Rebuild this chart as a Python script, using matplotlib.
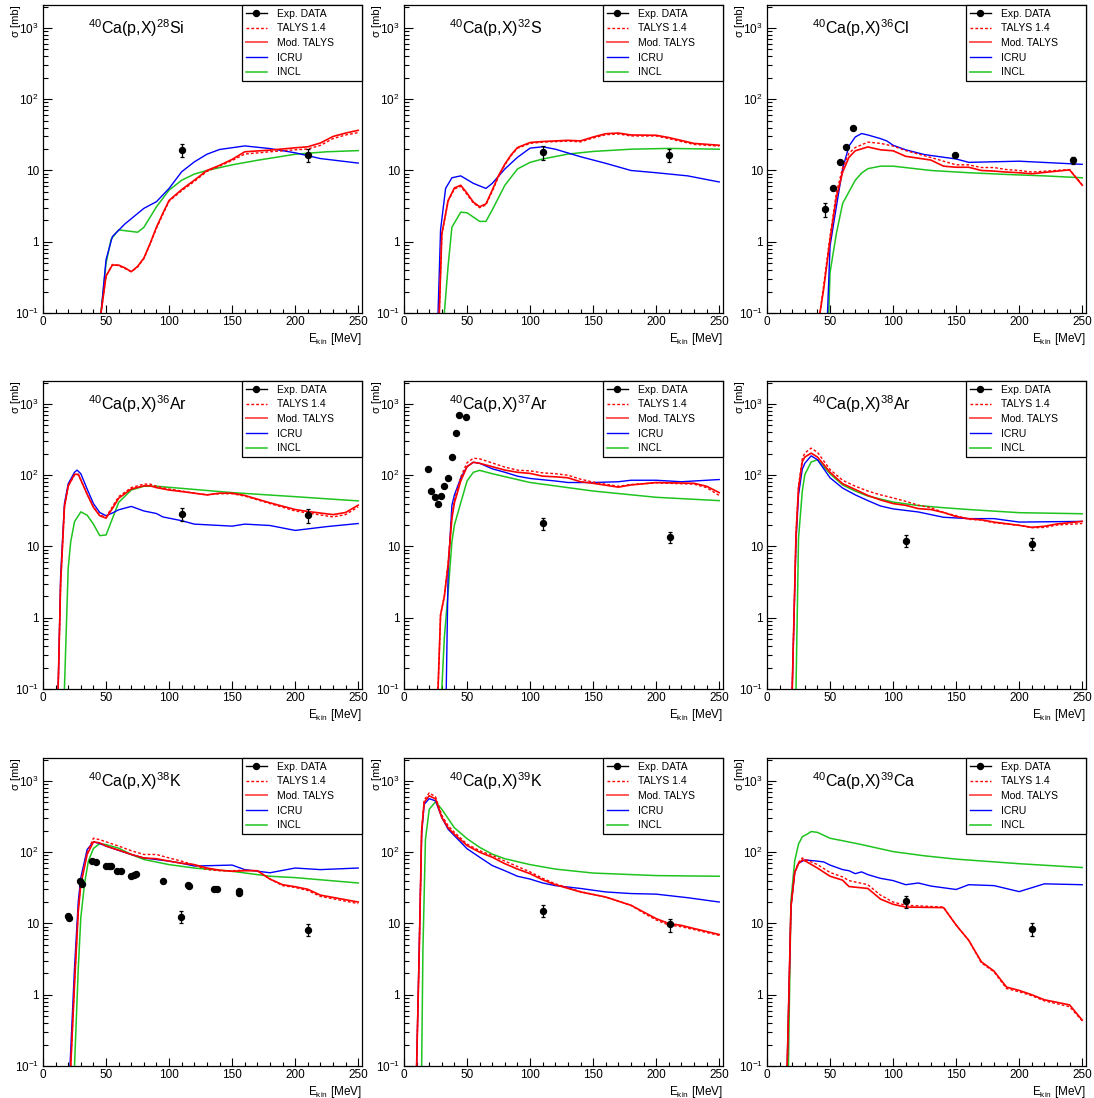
import matplotlib
matplotlib.use("Agg")
import matplotlib.pyplot as plt
from matplotlib.lines import Line2D
from matplotlib.ticker import FixedLocator, FixedFormatter, MultipleLocator, LogLocator, NullFormatter

plt.rcParams['font.family'] = ['Liberation Sans', 'DejaVu Sans']
plt.rcParams['mathtext.fontset'] = 'custom'
plt.rcParams['mathtext.rm'] = 'Liberation Sans'
plt.rcParams['mathtext.it'] = 'Liberation Sans:italic'

# ---- 40Ca(p,X)28Si ----
si28_exp_e = [110, 210]
si28_exp = [19.5, 16.5]
si28_exp_err = [4, 3.5]
si28_talys_e = [46, 50, 55, 60, 65, 70, 75, 80, 85, 90, 95, 100, 110, 120, 130, 140, 150, 160, 180, 200, 210, 220, 230, 240, 250]
si28_mod = [0.1, 0.33, 0.47, 0.47, 0.43, 0.38, 0.45, 0.59, 0.95, 1.6, 2.5, 3.8, 5.4, 7.3, 10, 11.8, 14.3, 18.3, 19.3, 20.8, 21.5, 24.3, 30, 33.5, 36.6]
si28_talys = [0.1, 0.33, 0.48, 0.46, 0.42, 0.38, 0.44, 0.58, 0.93, 1.55, 2.4, 3.7, 5.2, 7.0, 9.7, 11.5, 13.8, 17.0, 18.3, 19.5, 20, 22.5, 28, 31.5, 34]
si28_icru_e = [46, 50, 55, 65, 80, 90, 100, 110, 120, 130, 140, 160, 180, 200, 220, 250]
si28_icru = [0.1, 0.56, 1.18, 1.78, 2.94, 3.65, 5.6, 9.6, 13.2, 16.9, 19.7, 22.1, 20.3, 17.7, 14.7, 12.7]
si28_incl_e = [46, 50, 54, 60, 65, 75, 80, 90, 100, 110, 120, 130, 150, 170, 200, 225, 250]
si28_incl = [0.1, 0.5, 1.08, 1.47, 1.43, 1.36, 1.59, 3.1, 5.3, 7.3, 8.9, 10, 12, 13.9, 16.9, 18.3, 19]

# ---- 40Ca(p,X)32S ----
s32_exp_e = [110, 210]
s32_exp = [18, 16.5]
s32_exp_err = [4, 3.5]
s32_talys_e = [28, 30, 35, 40, 45, 50, 55, 60, 65, 70, 75, 80, 85, 90, 100, 110, 130, 140, 150, 160, 170, 180, 200, 210, 230, 250]
s32_mod = [0.1, 1.3, 3.8, 5.7, 6.2, 4.8, 3.6, 3.1, 3.4, 5.3, 8.5, 12.3, 16.6, 21, 24.7, 25.5, 26.5, 26, 29.5, 32.8, 33.5, 31.5, 31.2, 29, 24, 22.6]
s32_talys = [0.1, 1.25, 3.7, 5.5, 6.0, 4.6, 3.5, 3.0, 3.3, 5.1, 8.2, 12, 16.2, 20.5, 24, 25, 25.8, 25.2, 28.5, 31.8, 32.5, 30.5, 30.5, 28, 23.2, 22]
s32_icru_e = [27, 29, 33, 38, 45, 55, 65, 70, 80, 90, 100, 110, 120, 140, 160, 180, 200, 225, 250]
s32_icru = [0.1, 1.47, 5.6, 7.9, 8.4, 6.6, 5.6, 6.6, 10.5, 15.3, 20.6, 21.5, 19.9, 15.6, 12.6, 10, 9.3, 8.4, 6.9]
s32_incl_e = [32, 35, 38, 45, 50, 60, 65, 70, 80, 90, 100, 110, 130, 150, 180, 210, 250]
s32_incl = [0.1, 0.46, 1.6, 2.6, 2.55, 1.93, 1.93, 2.8, 6.2, 10.5, 13, 14.5, 17, 18.5, 19.9, 20.4, 19.9]

# ---- 40Ca(p,X)36Cl ----
cl36_exp_e = [46, 52, 58, 62.6, 68, 149, 243]
cl36_exp = [2.85, 5.75, 13, 21.5, 40, 16.7, 14]
cl36_exp_err = [0.6, 0.4, 0.8, 1.2, 2, 1, 1.5]
cl36_talys_e = [42, 45, 50, 55, 60, 65, 70, 80, 90, 100, 110, 130, 140, 150, 160, 170, 180, 190, 200, 210, 240, 250]
cl36_mod = [0.1, 0.22, 1.07, 4.2, 9.5, 15.3, 18.9, 21.4, 19.5, 18.9, 15.8, 14, 11.5, 11.1, 11.1, 10, 9.8, 9.5, 9.3, 9.0, 10.2, 6.2]
cl36_talys = [0.1, 0.25, 1.2, 4.8, 11, 17.5, 21, 25, 24, 22, 19, 15.2, 13.5, 12, 12, 11, 11, 10.3, 10, 9.5, 10.3, 6.3]
cl36_icru_e = [48, 50, 55, 60, 65, 70, 75, 80, 90, 95, 100, 110, 125, 150, 160, 200, 250]
cl36_icru = [0.1, 0.87, 3.1, 10.6, 22, 29.5, 33, 31.5, 28, 26, 22.6, 19.5, 16.7, 14.5, 13, 13.5, 12.2]
cl36_incl_e = [49, 50, 55, 60, 70, 75, 80, 90, 100, 130, 160, 190, 220, 250]
cl36_incl = [0.1, 0.37, 1.3, 3.45, 7.3, 9.2, 10.6, 11.5, 11.5, 10, 9.3, 8.8, 8.4, 7.9]

# ---- 40Ca(p,X)36Ar ----
ar36_exp_e = [110, 210]
ar36_exp = [29, 27.5]
ar36_exp_err = [6, 6]
ar36_talys_e = [12, 14, 17, 20, 25, 28, 30, 35, 40, 45, 50, 55, 60, 70, 80, 85, 90, 100, 110, 120, 130, 140, 150, 160, 180, 200, 210, 230, 240, 250]
ar36_mod = [0.1, 3.1, 36, 71, 103, 103, 86, 54, 35.5, 27, 25, 34, 47.5, 64, 71, 71, 67, 62, 59, 56, 53, 56, 56, 52, 41, 33, 31, 28, 30, 38]
ar36_talys = [0.1, 3.0, 35, 70, 101, 102, 86, 55, 36, 27.5, 26, 36, 50, 67, 75, 75, 70, 64, 60, 56, 53, 55, 55, 51, 40, 31.5, 29.5, 26, 28, 36]
ar36_icru_e = [12, 14, 17, 20, 25, 27, 30, 35, 40, 45, 50, 55, 60, 70, 80, 90, 95, 110, 120, 150, 160, 180, 200, 225, 250]
ar36_icru = [0.1, 4, 40, 76, 110, 118, 105, 64, 40, 30, 27, 29.5, 32.7, 36.5, 31.5, 29, 26, 23, 20.6, 19.3, 20.6, 19.7, 16.8, 19, 21]
ar36_incl_e = [17, 19, 20, 22, 25, 30, 35, 40, 45, 50, 55, 60, 70, 80, 90, 150, 200, 250]
ar36_incl = [0.1, 1.38, 5, 11.7, 22.3, 30.6, 27.5, 20.6, 14.2, 14.5, 24.5, 41.5, 62, 70, 70, 57, 50, 43.6]

# ---- 40Ca(p,X)37Ar ----
ar37_exp_e = [18.8, 21.5, 24.2, 27.2, 29, 31.8, 34.7, 37.7, 40.9, 43.9, 49.5, 110, 210.7]
ar37_exp = [122, 61, 50, 40, 51, 70, 90, 182, 397, 690, 660, 21.2, 13.6]
ar37_exp_err = [4, 2, 2, 1.5, 2, 2, 3, 6, 12, 20, 20, 4, 2.5]
ar37_talys_e = [27, 29, 32, 35, 38, 40, 45, 50, 55, 60, 80, 90, 100, 110, 120, 130, 140, 150, 170, 180, 200, 230, 240, 250]
ar37_mod = [0.1, 1.1, 2, 5.6, 25, 41, 83, 132, 152, 147, 118, 110, 106, 97, 95, 92, 81, 77, 68, 73, 79, 77, 70, 57]
ar37_talys = [0.1, 1.1, 2, 5.8, 27, 45, 95, 150, 173, 170, 130, 118, 115, 108, 105, 100, 88, 80, 70, 74, 78, 75, 67, 52]
ar37_icru_e = [33.5, 35, 38, 40, 45, 50, 55, 60, 70, 80, 90, 100, 120, 130, 150, 170, 180, 200, 220, 250]
ar37_icru = [0.1, 4.5, 38, 53, 91, 132, 152, 147, 123, 110, 97, 90, 83, 79, 79, 81, 85, 85, 81, 87]
ar37_incl_e = [30, 32, 35, 38, 40, 45, 50, 55, 60, 70, 100, 150, 200, 250]
ar37_incl = [0.1, 0.53, 2.3, 11.7, 20, 41, 83, 110, 117, 105, 79, 60, 49, 44]

# ---- 40Ca(p,X)38Ar ----
ar38_exp_e = [110, 210]
ar38_exp = [12.1, 11]
ar38_exp_err = [2.2, 2.2]
ar38_talys_e = [20, 23, 25, 28, 30, 35, 40, 50, 60, 70, 80, 90, 100, 110, 120, 130, 140, 150, 160, 170, 180, 200, 210, 220, 230, 250]
ar38_mod = [0.1, 14.6, 66, 155, 180, 204, 180, 110, 76, 63, 52, 45, 40, 37.8, 34, 33, 30, 26.3, 24.5, 23.7, 22, 19.8, 18.6, 19.2, 20.7, 22.5]
ar38_talys = [0.1, 15, 70, 170, 205, 240, 210, 120, 85, 70, 60, 53, 48, 43, 38, 35, 30, 27, 24, 23.5, 21.5, 19.8, 18.3, 18.5, 20, 21]
ar38_icru_e = [20, 23, 25, 28, 30, 35, 40, 50, 60, 70, 80, 90, 100, 120, 140, 160, 180, 200, 250]
ar38_icru = [0.1, 11.7, 53, 122, 147, 187, 165, 92, 66, 53, 44, 37, 33.7, 30.5, 25.7, 24.6, 24.6, 22, 22.5]
ar38_incl_e = [23, 25, 28, 30, 35, 40, 50, 60, 70, 80, 100, 120, 140, 160, 200, 250]
ar38_incl = [0.1, 13, 60, 102, 153, 165, 105, 73, 60, 51, 42, 37.5, 35, 33, 29.8, 28.8]

# ---- 40Ca(p,X)38K ----
k38_exp_e = [20, 21, 29, 31, 39, 42, 50, 52, 54, 59, 62, 70, 72, 74, 95, 109.5, 115, 116, 136, 138, 155.5, 155.5, 210]
k38_exp = [12.8, 12, 40, 36, 75, 74, 65, 64, 65, 55, 55, 46, 48, 50, 39, 12.5, 35, 34, 30, 30, 29, 26.5, 8.2]
k38_exp_err = [0.5, 0.5, 2, 2, 3, 3, 3, 3, 3, 2, 2, 2, 2, 2, 2, 2.5, 1.5, 1.5, 1.2, 1.2, 1.2, 1.2, 1.6]
k38_talys_e = [22, 25, 28, 30, 35, 40, 45, 50, 60, 70, 80, 90, 100, 110, 120, 130, 140, 150, 160, 170, 180, 190, 200, 210, 220, 250]
k38_mod = [0.1, 1.4, 15, 35, 93, 140, 135, 122, 107, 93, 83, 81, 75, 70, 67, 60, 56, 54, 55, 55, 42, 35, 32.8, 30.2, 25, 20]
k38_talys = [0.1, 1.5, 16, 38, 100, 157, 150, 140, 122, 105, 93, 93, 83, 75, 66, 57, 55, 55, 56, 55, 42, 34, 32, 29, 24, 19]
k38_icru_e = [21.4, 25, 28, 30, 35, 40, 45, 50, 60, 70, 80, 100, 110, 120, 150, 160, 180, 200, 220, 250]
k38_icru = [0.1, 2.4, 20.7, 44, 109, 140, 132, 122, 106, 93, 83, 75, 70, 64, 66, 57, 51.5, 60, 57, 60]
k38_incl_e = [25, 28, 30, 33, 36, 40, 45, 50, 60, 70, 80, 100, 120, 150, 180, 200, 250]
k38_incl = [0.1, 2.4, 12.1, 37, 75, 113, 132, 128, 114, 93, 79, 67, 60, 54, 46, 44, 37]

# ---- 40Ca(p,X)39K ----
k39_exp_e = [110, 210.7]
k39_exp = [15.2, 9.7]
k39_exp_err = [3, 2]
k39_talys_e = [10, 12, 14, 16, 20, 25, 30, 35, 40, 50, 60, 70, 80, 90, 100, 110, 120, 140, 160, 180, 190, 200, 210, 220, 230, 250]
k39_mod = [0.1, 3.4, 200, 500, 620, 560, 307, 220, 178, 124, 100, 85, 69, 58, 50, 41, 35, 27.7, 23.5, 18, 14.5, 11.7, 10, 9.4, 8.5, 7]
k39_talys = [0.1, 3.5, 210, 540, 680, 600, 330, 235, 190, 130, 105, 90, 75, 63, 53, 43, 36, 28, 23.5, 18, 14, 11.2, 9.5, 9.0, 8.2, 6.8]
k39_icru_e = [10, 12, 14, 16, 20, 25, 30, 35, 40, 50, 60, 70, 80, 90, 100, 110, 120, 140, 160, 180, 200, 225, 250]
k39_icru = [0.1, 4.2, 180, 470, 565, 525, 307, 210, 170, 112, 85, 65, 55, 46, 42, 37, 34, 31, 27.7, 26.3, 25.8, 23, 20]
k39_incl_e = [14, 15, 17, 20, 25, 30, 40, 50, 60, 70, 80, 100, 120, 150, 200, 250]
k39_incl = [0.1, 4.2, 150, 400, 510, 400, 220, 155, 117, 94, 81, 67, 58, 51, 47, 46]

# ---- 40Ca(p,X)39Ca ----
ca39_exp_e = [110, 210]
ca39_exp = [20.5, 8.4]
ca39_exp_err = [4, 1.7]
ca39_talys_e = [16, 19, 22, 25, 28, 30, 40, 50, 60, 65, 80, 90, 100, 110, 140, 150, 160, 170, 180, 190, 200, 210, 220, 240, 250]
ca39_mod = [0.1, 17, 52, 69, 78, 76, 60, 46, 40.5, 33, 31, 22, 18.6, 17, 16.7, 9.5, 5.8, 2.9, 2.15, 1.28, 1.15, 1.0, 0.85, 0.72, 0.44]
ca39_talys = [0.1, 17, 53, 72, 83, 80, 67, 52, 45, 40, 35, 25, 20, 18, 17, 9.5, 5.8, 2.8, 2.1, 1.22, 1.1, 0.97, 0.82, 0.68, 0.43]
ca39_icru_e = [16, 19, 22, 25, 30, 40, 45, 50, 60, 65, 70, 75, 80, 90, 100, 110, 120, 130, 150, 160, 180, 200, 220, 250]
ca39_icru = [0.1, 17, 52, 70, 78, 75, 73, 66, 57, 55, 50, 53, 48.5, 43, 40, 35, 37, 33.5, 30, 35, 34, 28, 36, 35]
ca39_incl_e = [17, 19, 22, 25, 28, 32, 35, 40, 50, 60, 75, 100, 125, 150, 200, 250]
ca39_incl = [0.1, 21, 76, 130, 165, 180, 195, 190, 157, 145, 128, 102, 89, 80, 69, 61]

panels = [
    ("28", "Si", si28_exp_e, si28_exp, si28_exp_err, si28_talys_e, si28_talys, si28_mod, si28_icru_e, si28_icru, si28_incl_e, si28_incl),
    ("32", "S", s32_exp_e, s32_exp, s32_exp_err, s32_talys_e, s32_talys, s32_mod, s32_icru_e, s32_icru, s32_incl_e, s32_incl),
    ("36", "Cl", cl36_exp_e, cl36_exp, cl36_exp_err, cl36_talys_e, cl36_talys, cl36_mod, cl36_icru_e, cl36_icru, cl36_incl_e, cl36_incl),
    ("36", "Ar", ar36_exp_e, ar36_exp, ar36_exp_err, ar36_talys_e, ar36_talys, ar36_mod, ar36_icru_e, ar36_icru, ar36_incl_e, ar36_incl),
    ("37", "Ar", ar37_exp_e, ar37_exp, ar37_exp_err, ar37_talys_e, ar37_talys, ar37_mod, ar37_icru_e, ar37_icru, ar37_incl_e, ar37_incl),
    ("38", "Ar", ar38_exp_e, ar38_exp, ar38_exp_err, ar38_talys_e, ar38_talys, ar38_mod, ar38_icru_e, ar38_icru, ar38_incl_e, ar38_incl),
    ("38", "K", k38_exp_e, k38_exp, k38_exp_err, k38_talys_e, k38_talys, k38_mod, k38_icru_e, k38_icru, k38_incl_e, k38_incl),
    ("39", "K", k39_exp_e, k39_exp, k39_exp_err, k39_talys_e, k39_talys, k39_mod, k39_icru_e, k39_icru, k39_incl_e, k39_incl),
    ("39", "Ca", ca39_exp_e, ca39_exp, ca39_exp_err, ca39_talys_e, ca39_talys, ca39_mod, ca39_icru_e, ca39_icru, ca39_incl_e, ca39_incl),
]

RED = '#ff0000'
BLUE = '#0000ff'
GREEN = '#1fc41f'

W, H = 1094, 1098
fig = plt.figure(figsize=(W / 100, H / 100), dpi=100)

col_left = [43, 404, 767]
row_top = [5, 381, 758]
aw, ah = 319, 308

for i, p in enumerate(panels):
    a, el, ex_e, ex, ex_err, t_e, t_v, m_v, ic_e, ic_v, in_e, in_v = p
    r, c = divmod(i, 3)
    ax = fig.add_axes([col_left[c] / W, 1 - (row_top[r] + ah) / H, aw / W, ah / H])
    ax.set_yscale('log')

    ax.plot(in_e, in_v, color=GREEN, lw=1.1)
    ax.plot(ic_e, ic_v, color=BLUE, lw=1.0)
    ax.plot(t_e, m_v, color=RED, lw=1.2)
    ax.plot(t_e, t_v, color=RED, lw=1.0, ls=(0, (2, 1.5)))
    ax.errorbar(ex_e, ex, yerr=ex_err, fmt='o', color='black', ms=4.3,
                elinewidth=0.9, capsize=1.5, capthick=0.9)

    ax.set_xlim(0, 253)
    ax.set_ylim(0.1, 2100)

    ax.xaxis.set_major_locator(MultipleLocator(50))
    ax.xaxis.set_minor_locator(MultipleLocator(10))
    ax.yaxis.set_major_locator(FixedLocator([0.1, 1, 10, 100, 1000]))
    ax.yaxis.set_major_formatter(FixedFormatter(['$10^{-1}$', '1', '10', '$10^{2}$', '$10^{3}$']))
    ax.yaxis.set_minor_locator(LogLocator(base=10, subs=range(2, 10), numticks=20))
    ax.yaxis.set_minor_formatter(NullFormatter())
    ax.tick_params(axis='both', which='both', direction='in', top=False, right=False,
                   labelsize=8.5, width=0.8, colors='black')
    ax.tick_params(axis='x', which='major', length=5.5, pad=2)
    ax.tick_params(axis='x', which='minor', length=3)
    ax.tick_params(axis='y', which='major', length=6.5, pad=3)
    ax.tick_params(axis='y', which='minor', length=3.5)
    for s in ax.spines.values():
        s.set_linewidth(0.9)

    ax.text(0.14, 0.925, r'$^{40}$Ca(p,X)$^{%s}$%s' % (a, el), transform=ax.transAxes,
            fontsize=11.5, ha='left', va='center')
    ax.text(1.0, -0.083, r'E$_{\rm kin}$ [MeV]', transform=ax.transAxes,
            fontsize=8.5, ha='right', va='center')
    ax.text(-0.085, 1.0, 'σ [mb]', transform=ax.transAxes, rotation=90,
            fontsize=8, ha='center', va='top')

    handles = [
        Line2D([], [], color='black', marker='o', ms=4.3, lw=1.0),
        Line2D([], [], color=RED, lw=1.0, ls=(0, (2, 1.5))),
        Line2D([], [], color=RED, lw=1.4, alpha=0.65),
        Line2D([], [], color=BLUE, lw=1.0),
        Line2D([], [], color=GREEN, lw=1.1),
    ]
    labels = ['Exp. DATA', 'TALYS 1.4', 'Mod. TALYS', 'ICRU', 'INCL']
    leg = ax.legend(handles, labels, loc='upper left', bbox_to_anchor=(0.624, 1.0, 0.376, 0.0),
                    mode='expand', borderaxespad=0, fancybox=False, framealpha=1,
                    edgecolor='black', fontsize=7.5, handlelength=2.0, handletextpad=1.0,
                    labelspacing=0.45, borderpad=0.35)
    leg.get_frame().set_linewidth(0.9)

fig.savefig('out.png', dpi=100)
